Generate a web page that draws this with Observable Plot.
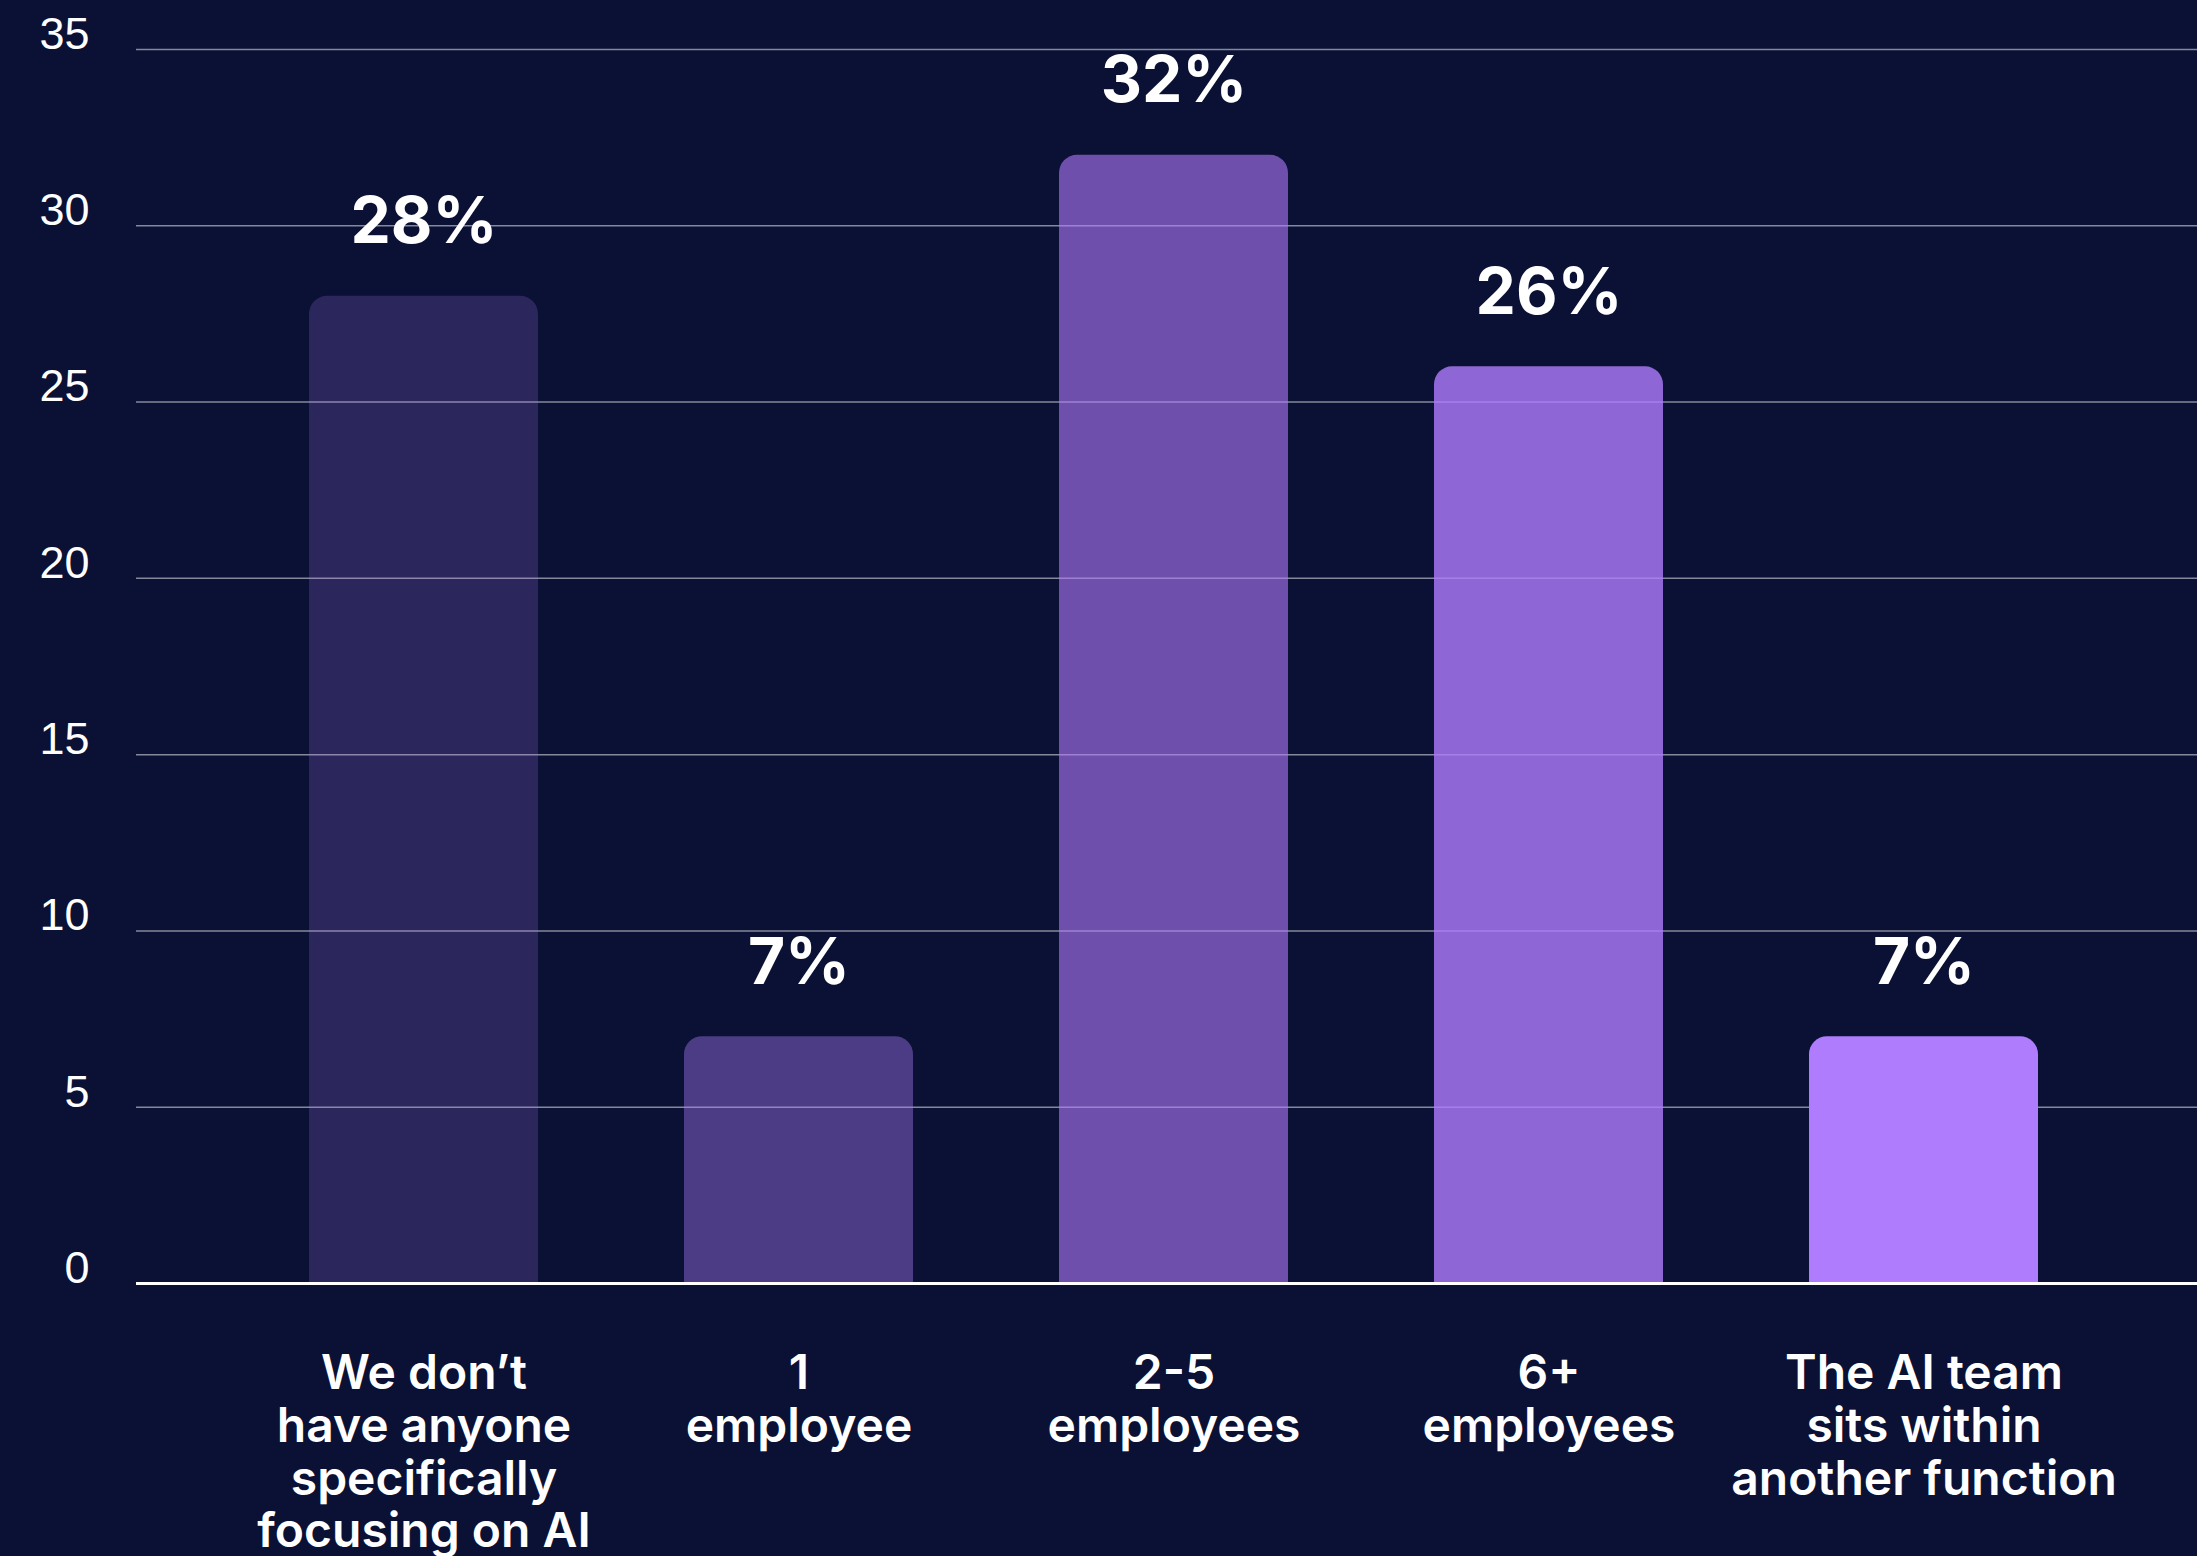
<!DOCTYPE html>
<html>
<head>
<meta charset="utf-8">
<script src="https://cdn.jsdelivr.net/npm/d3@7"></script>
<script src="https://cdn.jsdelivr.net/npm/@observablehq/plot@0.6"></script>
<style>
  html, body { margin: 0; padding: 0; background: #0a1134; }
  #chart { width: 2197px; height: 1556px; overflow: hidden; }
</style>
</head>
<body>
<div id="chart"></div>
<script>
const categories = [
  "We don’t\nhave anyone\nspecifically\nfocusing on AI",
  "1\nemployee",
  "2-5\nemployees",
  "6+\nemployees",
  "The AI team\nsits within\nanother function"
];
const values = [28, 7, 32, 26, 7];
const valueLabels = ["28%", "7%", "32%", "26%", "7%"];
const yTicks = [0, 5, 10, 15, 20, 25, 30, 35];

const data = categories.map((c, i) => ({cat: c, value: values[i], label: valueLabels[i]}));

const chart = Plot.plot({
  width: 2197,
  height: 1556,
  marginLeft: 136,
  marginRight: 0,
  marginTop: 49,
  marginBottom: 273,
  style: {background: "#0a1134", color: "white", fontFamily: "'Liberation Sans', Arial, sans-serif", overflow: "visible"},
  x: {domain: categories, paddingInner: 0.39, paddingOuter: 0.4425, align: 0.52},
  y: {domain: [0, 35], ticks: yTicks},
  marks: [
    Plot.gridY(yTicks, {stroke: "white", strokeOpacity: 0.5, strokeWidth: 1.5}),
    Plot.barY(data, {
      x: "cat", y: "value",
      fill: "#b07cfe",
      fillOpacity: (d, i) => (i + 1) / 5,
      rx: 18, insetBottom: -40, clip: true
    }),
    Plot.ruleY([0], {stroke: "white", strokeWidth: 3}),
    Plot.axisY(yTicks, {
      tickSize: 0, tickPadding: 47, fontSize: 45, dy: -15,
      fill: "white", label: null, tickFormat: d => d
    }),
    Plot.axisX({
      tickSize: 0, tickPadding: 68, fontSize: 48, lineAnchor: "top", lineHeight: 1.1,
      fontFamily: "Inter", fontWeight: 600, fill: "white", label: null
    }),
    Plot.text(data, {
      x: "cat", y: "value", text: "label",
      lineAnchor: "bottom", dy: -53,
      fontFamily: "Inter", fontWeight: 700, fontSize: 64, fill: "white"
    })
  ]
});
document.getElementById("chart").appendChild(chart);
</script>
</body>
</html>
